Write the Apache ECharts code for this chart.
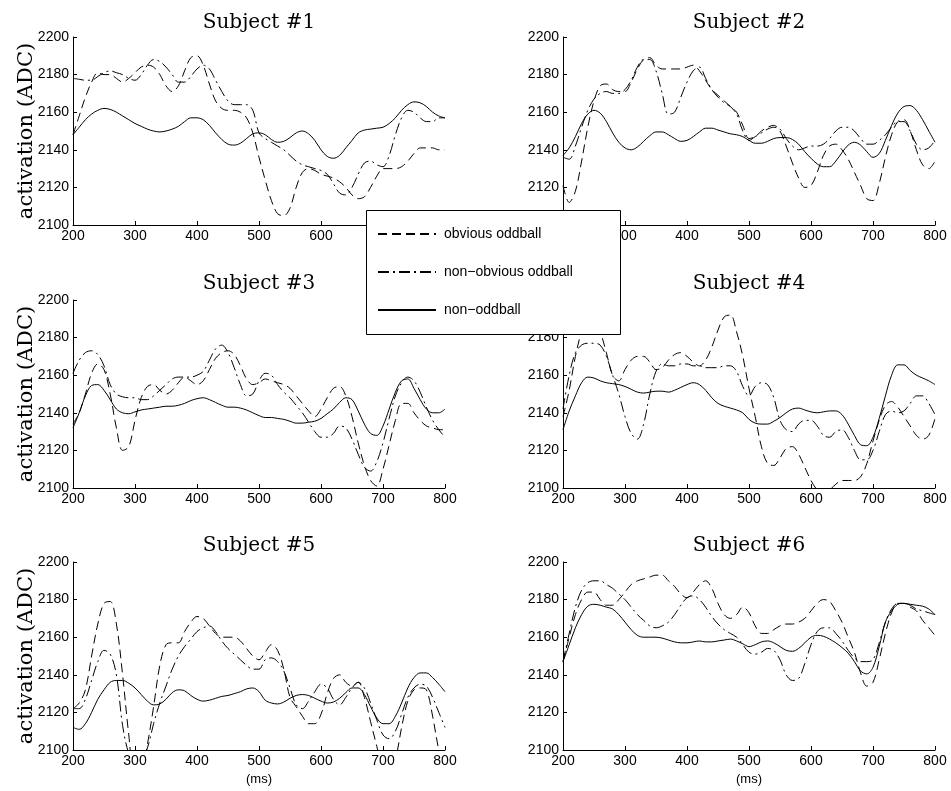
<!DOCTYPE html>
<html>
<head>
<meta charset="utf-8">
<script src="https://cdn.jsdelivr.net/npm/echarts@6/dist/echarts.min.js"></script>
<style>html,body{margin:0;padding:0;background:#fff;}#c{width:951px;height:791px;}</style>
</head>
<body>
<div id="c"></div>
<script>
// ---- data ----
var timeMs = [200,210,220,230,240,250,260,270,280,290,300,310,320,330,340,350,360,370,380,390,400,410,420,430,440,450,460,470,480,490,500,510,520,530,540,550,560,570,580,590,600,610,620,630,640,650,660,670,680,690,700,710,720,730,740,750,760,770,780,790,800];
var xTicks = [200,300,400,500,600,700,800];
var yTicks = [2100,2120,2140,2160,2180,2200];
var subjectTitles = ['Subject #1','Subject #2','Subject #3','Subject #4','Subject #5','Subject #6'];
var seriesNames = ['obvious oddball','non\u2212obvious oddball','non\u2212oddball'];

var s1Obvious = [2148,2158,2168,2176,2181,2180,2180,2178,2176,2178,2181,2184,2185,2184,2180,2174,2171,2174,2182,2189,2190,2185,2175,2166,2162,2161,2161,2160,2157,2149,2136,2124,2113,2106,2105,2109,2120,2128,2130,2129,2127,2126,2125,2123,2120,2116,2114,2115,2120,2126,2130,2130,2130,2131,2134,2138,2141,2141,2141,2140,2140];
var s1NonObvious = [2178,2177.5,2177,2177,2179,2181,2182,2181,2180,2178,2177,2180,2185,2188,2187,2184,2180,2176,2176,2179,2183,2185,2183,2177,2171,2166,2164,2164,2164,2161,2149,2146,2144,2142,2140,2137,2134,2132,2131,2130,2129,2127,2122,2117,2116,2120,2127,2133,2134,2132,2131,2137,2148,2157,2161,2160,2157,2155,2155,2157,2157];
var s1Non = [2148,2152,2156,2159,2161,2162,2161.5,2160,2158,2156,2154,2152.5,2151,2150,2149.5,2150,2151,2152.5,2155,2157,2157,2156,2153,2149,2145.5,2143,2142.5,2143.5,2146,2148.5,2149,2148,2145.5,2144,2144.5,2146.5,2149,2150,2148.5,2145,2140,2136.5,2135.5,2137,2141,2145,2149,2150.5,2151,2151.5,2152,2154,2157,2161,2164,2165.5,2165,2163,2160,2158,2157];

var s2Obvious = [2121,2112,2118,2134,2152,2166,2174,2175,2172,2171,2171,2176,2183,2188,2189,2185,2183,2183,2183,2183,2184,2185,2182,2177,2172,2169,2166,2163,2160,2153,2146,2147,2150,2152,2153,2150,2142,2133,2125,2120,2121,2128,2137,2142,2143,2140,2135,2128,2121,2114,2113,2122,2136,2148,2155,2156,2150,2140,2132,2130,2134];
var s2NonObvious = [2136,2135,2142,2152,2161,2167,2170,2171,2170,2170,2172,2177,2184,2188,2188,2182,2170,2159,2160,2168,2176,2182,2184,2178,2172,2168,2165,2163,2159,2150,2145,2147,2149,2151,2152,2151,2146,2142,2140,2141,2142,2142,2143,2146,2150,2152,2152,2150,2146,2143,2143,2145,2148,2152,2155,2155,2150,2143,2140,2141,2145];
var s2Non = [2137,2141,2147,2154,2159,2161,2159.5,2155,2149,2144,2141,2140,2141.5,2144.5,2147.5,2149.5,2149.5,2148,2146,2144.5,2145,2147,2149.5,2151.5,2151.5,2150.5,2149.5,2148.5,2148,2147,2145,2143.5,2143.5,2144.5,2146,2146.5,2146.5,2145.5,2143,2139,2135.5,2132.5,2131,2131,2134,2138.5,2142.5,2144,2142.5,2139,2136,2138,2145,2153,2159.5,2163,2163.5,2161,2156,2150,2144];

var s3Obvious = [2134,2140,2150,2161,2166,2163,2150,2132,2120,2122,2136,2148,2154,2155,2152,2150,2152,2156,2159,2157,2155,2157,2163,2169,2172,2173,2171,2165,2158,2155,2156,2158,2157,2156,2155,2153,2149,2145,2141,2138,2142,2148,2153,2154,2149,2138,2124,2112,2104,2101,2110,2123,2136,2145,2145,2140,2136,2133,2132,2131,2131];
var s3NonObvious = [2161,2168,2172,2173,2171,2165,2155,2150,2148.5,2148,2148,2147,2147,2149,2152,2155,2158,2159,2159,2159,2160,2162,2168,2174,2176,2172,2164,2155,2149,2150,2157,2161,2160,2155,2151,2148,2144,2140,2135,2130,2127,2127,2129,2133,2132,2126,2118,2111,2109,2114,2124,2137,2149,2156,2159,2157,2151,2143,2136,2131,2127];
var s3Non = [2132,2140,2149,2154.5,2155,2152,2147,2142,2140,2139.5,2140.5,2141.5,2142,2142.5,2143,2143.5,2143.5,2144,2145,2146.5,2147.5,2148,2147,2145.5,2144,2143,2143,2142.5,2141.5,2140,2138.5,2137.5,2137.5,2137,2136.5,2135.5,2134.5,2134.5,2135,2135.5,2137,2139.5,2142,2145.5,2148,2147,2141,2134,2129,2128,2133,2142,2151,2157,2158,2153,2147,2142,2140,2140,2142];

var s4Obvious = [2138,2152,2170,2183,2189,2189,2183,2172,2160,2157,2163,2168,2170,2170,2167,2163,2164,2168,2171,2172,2170,2167,2165,2168,2175,2184,2191,2192,2183,2170,2153,2138,2122,2113,2112,2116,2121,2122,2118,2111,2104,2099,2097,2099,2102,2104,2104,2104,2106,2113,2125,2136,2144,2146,2143,2138,2133,2128,2126,2128,2137];
var s4NonObvious = [2142,2160,2172,2176,2177,2177,2176,2170,2160,2150,2138,2129,2126,2134,2150,2162,2166,2165,2165,2166,2166,2165,2165,2164,2164,2164,2165,2165,2162,2154,2149,2154,2156,2155,2148,2136,2131,2130,2134,2136,2136,2133,2128,2127,2130,2131,2127,2120,2115,2115,2120,2130,2139,2141,2140,2141,2145,2149,2149,2145,2139];
var s4Non = [2131,2141,2149,2156,2159,2158.5,2157,2156,2155.5,2155,2154,2152.5,2151,2150.5,2151,2151.5,2151.5,2151,2152,2153.5,2155,2156,2155,2152,2148,2145,2143.5,2142.5,2141.5,2140,2136.5,2134.5,2134,2134,2135.5,2137.5,2140,2142,2142.5,2141.5,2140.5,2140,2140.5,2141,2141,2139,2134,2128,2123,2122.5,2127,2137,2149,2160,2165.5,2165.5,2162.5,2160,2158.5,2157,2155];

var s5Obvious = [2122,2125,2132,2150,2167,2178,2179,2167,2140,2108,2085,2088,2103,2123,2145,2156,2157,2157,2163,2168,2171,2170,2166,2162,2160,2160,2160,2158,2154,2150,2148,2152,2156,2153,2143,2128,2123,2118,2114,2114,2119,2130,2138,2140,2136,2134,2136,2128,2115,2102,2090,2088,2095,2112,2126,2132,2133,2132,2118,2100,2088];
var s5NonObvious = [2122,2122,2127,2137,2147,2153,2151,2140,2113,2098,2092,2094,2101,2114,2125,2134,2143,2150,2155,2159,2163,2165,2166,2163,2158,2154,2151,2148,2145,2143,2143,2148,2149,2147,2142,2133,2124,2122,2126,2131,2135,2133,2127,2124,2128,2133,2136,2133,2125,2116,2108,2106,2110,2119,2128,2133,2135,2134,2128,2120,2112];
var s5Non = [2112,2111,2114,2120,2127,2132,2136,2137,2137,2135.5,2133,2129.5,2126,2124,2124.5,2127,2130.5,2132,2131.5,2129,2127,2126,2126.5,2127.5,2128.5,2129,2130,2131,2132.5,2133,2131,2126.5,2125,2124.5,2125.5,2127.5,2129,2129.5,2129,2127.5,2126,2125,2125.5,2127.5,2130.5,2133,2133,2129.5,2123,2117,2114,2114,2118,2125,2133,2138.5,2141,2141,2138.5,2135,2131];

var s6Obvious = [2147,2160,2172,2180,2184,2184,2180,2177,2177,2180,2184,2188,2190,2191,2192,2193,2193,2190,2187,2183,2181,2184,2188,2190,2186,2178,2172,2170,2172,2176,2173,2166,2162,2162,2164,2166,2167,2167,2168,2170,2174,2178,2180,2179,2174,2168,2160,2152,2141,2134,2136,2148,2162,2173,2178,2178,2176,2174,2169,2165,2161];
var s6NonObvious = [2147,2162,2176,2185,2189,2190,2190,2188,2186,2183,2180,2176,2172,2169,2166,2165,2166,2168,2172,2177,2181,2182,2180,2176,2171,2167,2164,2162,2160,2156,2152,2151,2152,2154,2153,2148,2140,2137,2138,2146,2156,2163,2165,2165,2162,2158,2153,2149,2147,2147,2148,2157,2168,2175,2178,2178,2177,2175,2174,2173,2172];
var s6Non = [2147,2156,2165,2172,2176.5,2177.5,2177,2176,2175,2172,2168,2164,2161,2160,2160,2160,2159.5,2158.5,2157.5,2157,2157,2157.5,2158,2157.5,2157.5,2158,2158.5,2159,2158,2156.5,2155,2156,2157.5,2158,2157,2155,2153,2152.5,2154,2157,2160,2161,2160.5,2159,2157,2154.5,2151.5,2147,2142,2140.5,2144,2155,2168,2174,2177.5,2178,2177.5,2177,2176.5,2175,2172];

var subjects = [
  [s1Obvious, s1NonObvious, s1Non],
  [s2Obvious, s2NonObvious, s2Non],
  [s3Obvious, s3NonObvious, s3Non],
  [s4Obvious, s4NonObvious, s4Non],
  [s5Obvious, s5NonObvious, s5Non],
  [s6Obvious, s6NonObvious, s6Non]
];

// ---- layout / style ----
var colLeft = [73, 563];
var rowTop = [37, 300, 562];
var plotW = 372, plotH = 188;
var lineTypes = [[9,5],[11,4,2,4],'solid'];
var tickFont = 'Liberation Sans, Arial, sans-serif';
var serifFont = 'DejaVu Serif, serif';
var plainNum = function (v) { return String(v); };

var grids = [], xAxes = [], yAxes = [], series = [], graphics = [];
for (var i = 0; i < 6; i++) {
  var c = i % 2, r = Math.floor(i / 2);
  grids.push({left: colLeft[c], top: rowTop[r], width: plotW, height: plotH});
  xAxes.push({
    type: 'value', gridIndex: i, min: xTicks[0], max: xTicks[xTicks.length-1], interval: 100,
    axisLine: {show: true, lineStyle: {color: '#000', width: 1}},
    axisTick: {show: true, inside: true, length: 4, lineStyle: {color: '#000'}},
    axisLabel: {color: '#000', fontSize: 14, fontFamily: tickFont, margin: 4, formatter: plainNum},
    splitLine: {show: false}
  });
  yAxes.push({
    type: 'value', gridIndex: i, min: yTicks[0], max: yTicks[yTicks.length-1], interval: 20,
    axisLine: {show: true, lineStyle: {color: '#000', width: 1}},
    axisTick: {show: true, inside: true, length: 4, lineStyle: {color: '#000'}},
    axisLabel: {color: '#000', fontSize: 14, fontFamily: tickFont, margin: 4, formatter: plainNum},
    splitLine: {show: false}
  });
  for (var k = 0; k < 3; k++) {
    var vals = subjects[i][k];
    var pts = timeMs.map(function (t, j) { return [t, vals[j]]; });
    series.push({
      type: 'line', name: seriesNames[k], xAxisIndex: i, yAxisIndex: i,
      data: pts, showSymbol: false, symbol: 'none', smooth: 0.35, clip: true,
      lineStyle: {color: '#000', width: 1, type: lineTypes[k]},
      itemStyle: {color: '#000'}, silent: true
    });
  }
  var cx = colLeft[c] + plotW / 2;
  var titleY = [23, 284, 546][r];
  graphics.push({type: 'text', x: cx, y: titleY, style: {text: subjectTitles[i], font: '20px ' + serifFont, fill: '#000', align: 'center', verticalAlign: 'middle'}});
  if (c === 0) {
    graphics.push({type: 'text', x: 27, y: rowTop[r] + plotH / 2, rotation: Math.PI / 2,
      style: {text: 'activation (ADC)', font: '21px ' + serifFont, fill: '#000', align: 'center', verticalAlign: 'middle'}});
  }
  if (r === 2) {
    graphics.push({type: 'text', x: cx, y: 779, style: {text: '(ms)', font: '13px ' + tickFont, fill: '#000', align: 'center', verticalAlign: 'middle'}});
  }
}
graphics.push({type: 'rect', z: 9, shape: {x: 366.5, y: 210.5, width: 254, height: 124}, style: {fill: '#fff', stroke: '#000', lineWidth: 1}});

var chart = echarts.init(document.getElementById('c'), null, {renderer: 'canvas'});
chart.setOption({
  animation: false,
  backgroundColor: '#fff',
  grid: grids, xAxis: xAxes, yAxis: yAxes, series: series,
  graphic: {elements: graphics},
  legend: {
    data: seriesNames, orient: 'vertical', left: 377, top: 227, z: 10,
    itemWidth: 58, itemHeight: 14, itemGap: 24, padding: 0,
    selectedMode: false,
    itemStyle: {color: 'rgba(0,0,0,0)', borderWidth: 0, opacity: 0},
    textStyle: {color: '#000', fontSize: 14, fontFamily: tickFont, lineHeight: 14, padding: [0,0,0,3]}
  }
});
</script>
</body>
</html>
